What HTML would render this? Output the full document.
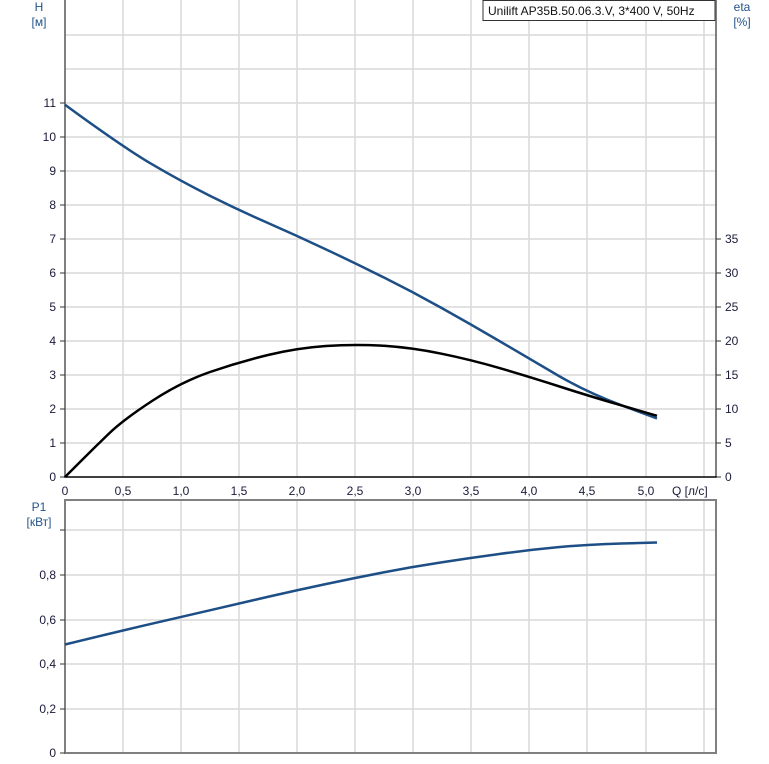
<!DOCTYPE html>
<html><head><meta charset="utf-8"><style>
html,body{margin:0;padding:0;background:#fff;}
svg{display:block;font-family:"Liberation Sans",sans-serif;}
</style></head><body>
<svg width="769" height="764" viewBox="0 0 769 764" xmlns="http://www.w3.org/2000/svg">
<g stroke="#d9d9d9" stroke-width="1.5">
<line x1="123" y1="0" x2="123" y2="477"/><line x1="181" y1="0" x2="181" y2="477"/><line x1="239" y1="0" x2="239" y2="477"/><line x1="297" y1="0" x2="297" y2="477"/><line x1="355" y1="0" x2="355" y2="477"/><line x1="413" y1="0" x2="413" y2="477"/><line x1="471" y1="0" x2="471" y2="477"/><line x1="529" y1="0" x2="529" y2="477"/><line x1="587" y1="0" x2="587" y2="477"/><line x1="646" y1="0" x2="646" y2="477"/><line x1="704" y1="0" x2="704" y2="477"/>
<line x1="65" y1="35" x2="716" y2="35"/><line x1="65" y1="69" x2="716" y2="69"/><line x1="65" y1="103" x2="716" y2="103"/><line x1="65" y1="137" x2="716" y2="137"/><line x1="65" y1="171" x2="716" y2="171"/><line x1="65" y1="205" x2="716" y2="205"/><line x1="65" y1="239" x2="716" y2="239"/><line x1="65" y1="273" x2="716" y2="273"/><line x1="65" y1="307" x2="716" y2="307"/><line x1="65" y1="341" x2="716" y2="341"/><line x1="65" y1="375" x2="716" y2="375"/><line x1="65" y1="409" x2="716" y2="409"/><line x1="65" y1="443" x2="716" y2="443"/>
<line x1="123" y1="500" x2="123" y2="753"/><line x1="181" y1="500" x2="181" y2="753"/><line x1="239" y1="500" x2="239" y2="753"/><line x1="297" y1="500" x2="297" y2="753"/><line x1="355" y1="500" x2="355" y2="753"/><line x1="413" y1="500" x2="413" y2="753"/><line x1="471" y1="500" x2="471" y2="753"/><line x1="529" y1="500" x2="529" y2="753"/><line x1="587" y1="500" x2="587" y2="753"/><line x1="646" y1="500" x2="646" y2="753"/><line x1="704" y1="500" x2="704" y2="753"/>
<line x1="65" y1="530" x2="716" y2="530"/><line x1="65" y1="575" x2="716" y2="575"/><line x1="65" y1="620" x2="716" y2="620"/><line x1="65" y1="664" x2="716" y2="664"/><line x1="65" y1="709" x2="716" y2="709"/>
</g>
<g stroke="#808080" stroke-width="2" fill="none">
<line x1="65" y1="0" x2="65" y2="477"/><line x1="716" y1="0" x2="716" y2="477"/>
<rect x="65" y="500" width="651" height="253"/>
</g>
<line x1="64" y1="477" x2="717" y2="477" stroke="#000" stroke-width="1.5"/>
<g stroke="#333" stroke-width="1">
<line x1="60" y1="477" x2="65" y2="477"/><line x1="60" y1="443" x2="65" y2="443"/><line x1="60" y1="409" x2="65" y2="409"/><line x1="60" y1="375" x2="65" y2="375"/><line x1="60" y1="341" x2="65" y2="341"/><line x1="60" y1="307" x2="65" y2="307"/><line x1="60" y1="273" x2="65" y2="273"/><line x1="60" y1="239" x2="65" y2="239"/><line x1="60" y1="205" x2="65" y2="205"/><line x1="60" y1="171" x2="65" y2="171"/><line x1="60" y1="137" x2="65" y2="137"/><line x1="60" y1="103" x2="65" y2="103"/>
<line x1="716" y1="477" x2="721" y2="477"/><line x1="716" y1="443" x2="721" y2="443"/><line x1="716" y1="409" x2="721" y2="409"/><line x1="716" y1="375" x2="721" y2="375"/><line x1="716" y1="341" x2="721" y2="341"/><line x1="716" y1="307" x2="721" y2="307"/><line x1="716" y1="273" x2="721" y2="273"/><line x1="716" y1="239" x2="721" y2="239"/>
<line x1="60" y1="753" x2="65" y2="753"/><line x1="60" y1="709" x2="65" y2="709"/><line x1="60" y1="664" x2="65" y2="664"/><line x1="60" y1="620" x2="65" y2="620"/><line x1="60" y1="575" x2="65" y2="575"/><line x1="60" y1="530" x2="65" y2="530"/>
</g>
<g font-size="12" fill="#1a1a3a" text-anchor="end">
<text x="56" y="481">0</text><text x="56" y="447">1</text><text x="56" y="413">2</text><text x="56" y="379">3</text><text x="56" y="345">4</text><text x="56" y="311">5</text><text x="56" y="277">6</text><text x="56" y="243">7</text><text x="56" y="209">8</text><text x="56" y="175">9</text><text x="56" y="141">10</text><text x="56" y="107">11</text>
<text x="56" y="757">0</text><text x="56" y="713">0,2</text><text x="56" y="668">0,4</text><text x="56" y="624">0,6</text><text x="56" y="579">0,8</text>
</g>
<g font-size="12" fill="#1a1a3a" text-anchor="start">
<text x="725" y="481">0</text><text x="725" y="447">5</text><text x="725" y="413">10</text><text x="725" y="379">15</text><text x="725" y="345">20</text><text x="725" y="311">25</text><text x="725" y="277">30</text><text x="725" y="243">35</text>
</g>
<g font-size="12" fill="#1a1a3a" text-anchor="middle">
<text x="65" y="495">0</text><text x="123" y="495">0,5</text><text x="181" y="495">1,0</text><text x="239" y="495">1,5</text><text x="297" y="495">2,0</text><text x="355" y="495">2,5</text><text x="413" y="495">3,0</text><text x="471" y="495">3,5</text><text x="529" y="495">4,0</text><text x="587" y="495">4,5</text><text x="646" y="495">5,0</text>
</g>
<text x="672" y="495" font-size="12" fill="#1a1a3a">Q [л/с]</text>
<g font-size="12" fill="#24548a" text-anchor="middle">
<text x="39" y="11">H</text><text x="39" y="26">[м]</text>
<text x="742" y="11">eta</text><text x="742" y="26">[%]</text>
<text x="39" y="511">P1</text><text x="39" y="526">[кВт]</text>
</g>
<rect x="483" y="0.5" width="232" height="20" fill="#fff" stroke="#333" stroke-width="1"/>
<text x="488" y="15" font-size="12" fill="#111">Unilift AP35B.50.06.3.V, 3*400 V, 50Hz</text>
<path fill="none" stroke="#1d4f86" stroke-width="2.5" d="M65,104.7 Q122.9,147.2 151.9,164.2 Q180.8,181.2 209.8,195.7 Q238.7,210.1 267.7,222.9 Q296.6,235.6 325.6,249.2 Q354.5,262.8 383.5,277.3 Q412.4,291.7 441.4,307.9 Q470.3,324 499.3,341 Q528.2,358 557.2,375 Q586.1,392 621.6,405.3 L657,418.5"/>
<path fill="none" stroke="#000" stroke-width="2.5" d="M65,477 L79.5,462.5 Q94,448 108.5,434 Q123,420 152,401 Q181,382 210,372 Q239,362 268,355 Q297,348 326,346 Q355,344 384,345.8 Q413,347.8 442,353.8 Q471,359.7 500,368.2 Q529,376.7 558,386 Q587,395.4 622,405.6 L657,415.8"/>
<path fill="none" stroke="#1d4f86" stroke-width="2.5" d="M65,644.5 Q122.9,630.4 151.9,623.7 Q180.8,617 209.8,610.3 Q238.7,603.6 267.7,596.9 Q296.6,590.2 325.6,584.1 Q354.5,578 383.5,572.4 Q412.4,566.8 441.4,562.4 Q470.3,557.9 499.3,554 Q528.2,550 557.2,547.3 Q586.1,544.5 621.6,543.5 L657,542.5"/>
</svg>
</body></html>
